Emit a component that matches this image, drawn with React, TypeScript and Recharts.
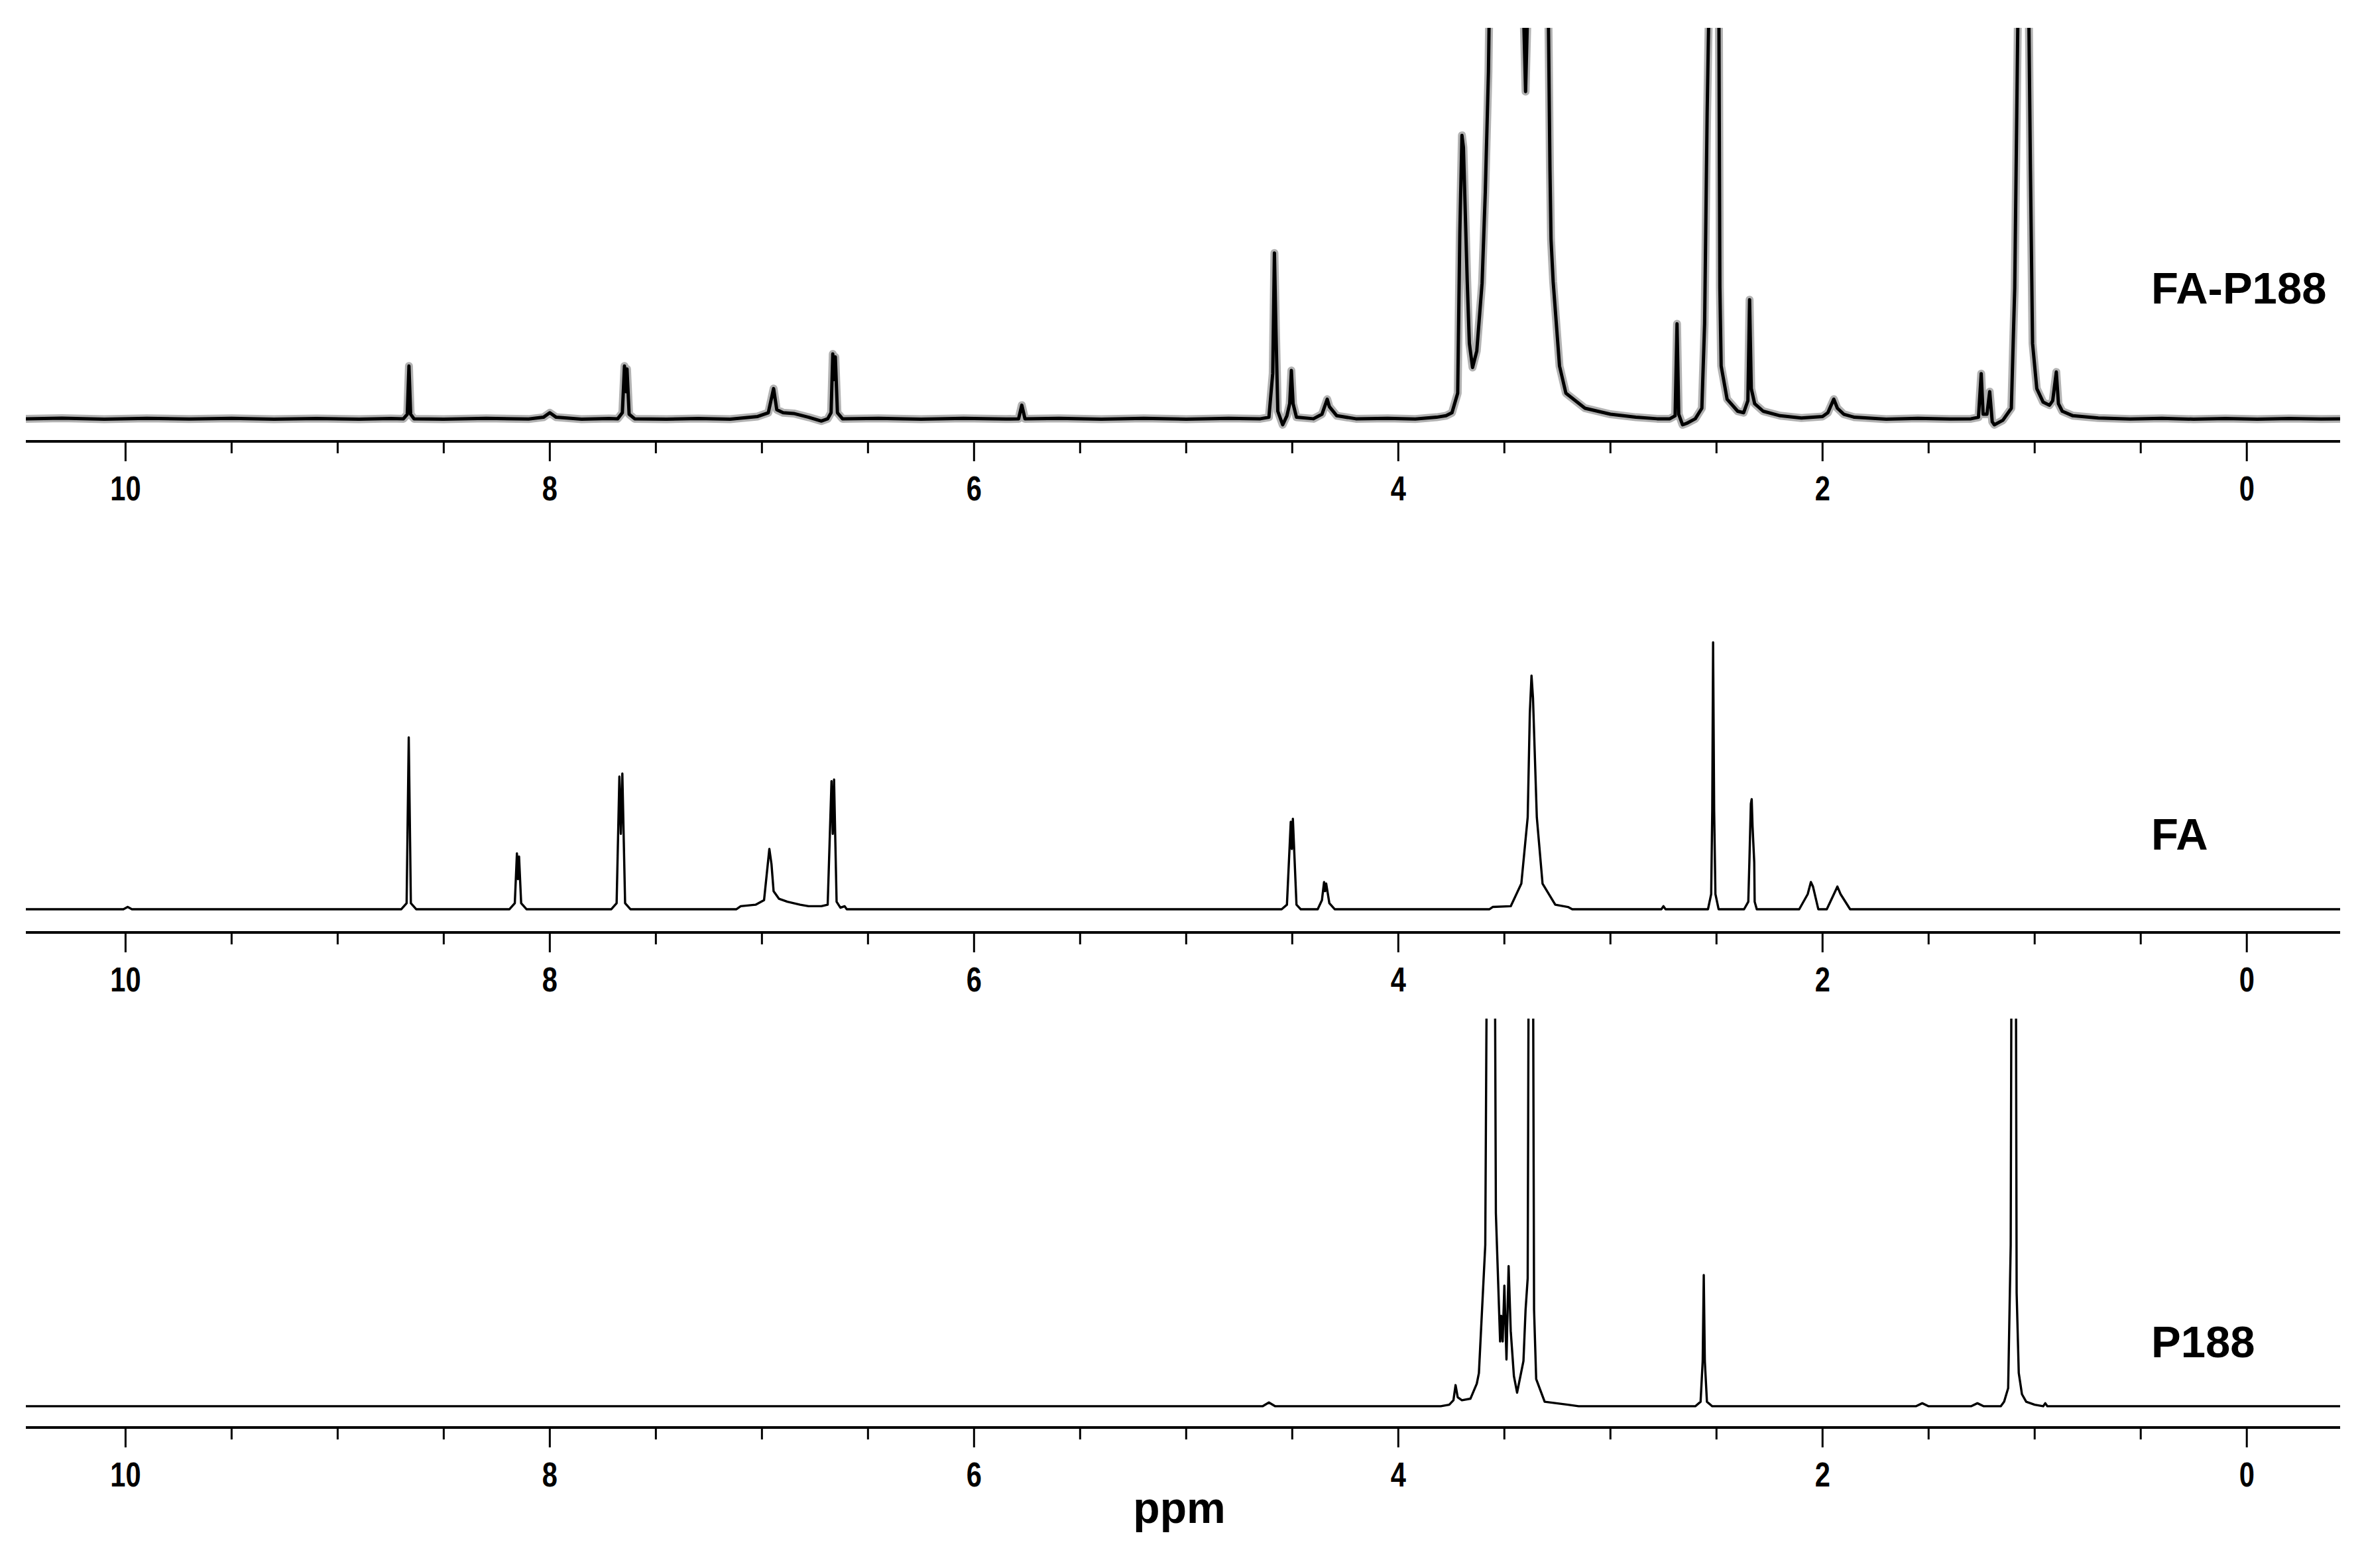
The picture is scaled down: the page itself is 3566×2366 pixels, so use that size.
import React from 'react';
import { LineChart, Line, XAxis, YAxis } from 'recharts';

// ---------- data ----------
const PPM_TICKS = [0, 0.5, 1, 1.5, 2, 2.5, 3, 3.5, 4, 4.5, 5, 5.5, 6, 6.5, 7, 7.5, 8, 8.5, 9, 9.5, 10];
const PPM_DOMAIN: [number, number] = [-0.44, 10.47];
const PANEL_NAMES = ['FA-P188', 'FA', 'P188'];
const AXIS_TITLE = 'ppm';

// [chemical shift (ppm), intensity (arbitrary units, baseline = 0)]
const FA_P188_SPECTRUM: [number, number][] = [
  [10.47, 0], [10.3, 0.4], [10.1, -0.3], [9.9, 0.3], [9.7, -0.2], [9.5, 0.3], [9.3, -0.3], [9.1, 0.2], [8.9, -0.3], [8.75, 0.2],
  [8.69, 0], [8.672, 3], [8.664, 35], [8.656, 3], [8.64, 0],
  [8.5, -0.3], [8.3, 0.3], [8.1, -0.2], [8.03, 1], [8.0, 4], [7.97, 1], [7.85, -0.3], [7.72, 0.2],
  [7.68, 0], [7.658, 4], [7.648, 35], [7.642, 18], [7.636, 33], [7.626, 3], [7.6, 0],
  [7.45, -0.3], [7.3, 0.2], [7.15, -0.3], [7.02, 1.5], [6.97, 4], [6.945, 20], [6.93, 6], [6.9, 4], [6.85, 3.5], [6.78, 1], [6.72, -1.5],
  [6.69, 0], [6.674, 4], [6.666, 43], [6.66, 26], [6.654, 41], [6.644, 4], [6.62, 0],
  [6.45, 0.3], [6.25, -0.3], [6.05, 0.3], [5.85, -0.2], [5.79, 0], [5.775, 9], [5.76, 0],
  [5.6, 0.3], [5.4, -0.3], [5.2, 0.3], [5.0, -0.3], [4.8, 0.3], [4.65, 0],
  [4.61, 1], [4.592, 30], [4.584, 110], [4.577, 60], [4.568, 5], [4.545, -4], [4.525, 2], [4.512, 10], [4.504, 32], [4.496, 10], [4.48, 1],
  [4.4, 0], [4.36, 3], [4.335, 13], [4.325, 8], [4.29, 2], [4.2, 0], [4.05, 0.3], [3.92, -0.2], [3.82, 1], [3.775, 2],
  [3.747, 4], [3.72, 17], [3.71, 123], [3.7, 188], [3.693, 180], [3.675, 91], [3.665, 50], [3.65, 34], [3.63, 45], [3.605, 90], [3.59, 150], [3.575, 230],
  [3.55, 500], [3.45, 500], [3.415, 300], [3.4, 217], [3.385, 300], [3.35, 600], [3.3, 500], [3.295, 300],
  [3.285, 165], [3.28, 119], [3.27, 91], [3.24, 35], [3.21, 17], [3.12, 7], [3.0, 3], [2.88, 1], [2.78, 0],
  [2.72, 0], [2.695, 2], [2.686, 63], [2.678, 3], [2.66, -4], [2.64, -3], [2.6, 0],
  [2.569, 7], [2.556, 63], [2.544, 203], [2.53, 320], [2.51, 500], [2.49, 320], [2.484, 87], [2.478, 35], [2.45, 13], [2.4, 5],
  [2.372, 4], [2.352, 12], [2.344, 79], [2.336, 20], [2.32, 10], [2.28, 5], [2.2, 2], [2.1, 0.5],
  [2.0, 1.5], [1.975, 4], [1.947, 13], [1.93, 7], [1.9, 3], [1.85, 1], [1.7, -0.3], [1.55, 0.3], [1.4, -0.2], [1.3, 0],
  [1.265, 1], [1.252, 30], [1.243, 3], [1.225, 3], [1.212, 18], [1.2, -2], [1.19, -4], [1.15, -1],
  [1.11, 7], [1.094, 87], [1.078, 280], [1.05, 500], [1.03, 300], [1.02, 165], [1.01, 50], [0.99, 20], [0.96, 11],
  [0.93, 9], [0.915, 12], [0.898, 31], [0.888, 10], [0.87, 5], [0.82, 2], [0.7, 0.5],
  [0.55, -0.2], [0.4, 0.3], [0.25, -0.3], [0.1, 0.2], [-0.05, -0.3], [-0.2, 0.2], [-0.35, -0.2], [-0.44, 0],
];

const FA_SPECTRUM: [number, number][] = [
  [10.47, 0], [10.01, 0], [9.99, 1.5], [9.97, 0], [8.75, 0],
  [8.7, 0], [8.675, 4], [8.665, 114], [8.66, 60], [8.655, 4], [8.63, 0],
  [8.19, 0], [8.165, 4], [8.155, 37], [8.15, 20], [8.145, 35], [8.135, 4], [8.11, 0],
  [7.71, 0], [7.685, 4], [7.672, 88], [7.665, 50], [7.658, 90], [7.645, 4], [7.62, 0],
  [7.12, 0], [7.1, 2], [7.03, 3], [6.99, 6], [6.965, 40], [6.955, 30], [6.945, 12], [6.92, 7], [6.88, 5], [6.82, 3], [6.78, 2], [6.72, 2],
  [6.69, 3], [6.672, 85], [6.666, 50], [6.66, 86], [6.648, 5], [6.63, 1], [6.61, 2], [6.6, 0],
  [4.55, 0], [4.525, 3], [4.507, 58], [4.502, 40], [4.497, 60], [4.48, 3], [4.46, 0],
  [4.38, 0], [4.36, 6], [4.35, 18], [4.345, 12], [4.34, 17], [4.325, 4], [4.3, 0],
  [3.57, 0], [3.555, 1.5], [3.47, 2], [3.42, 17], [3.39, 61], [3.38, 130], [3.372, 155], [3.365, 140], [3.347, 61], [3.32, 17], [3.26, 3], [3.2, 1.5], [3.18, 0],
  [2.76, 0], [2.75, 2], [2.74, 0],
  [2.54, 0], [2.525, 10], [2.52, 65], [2.516, 177], [2.511, 65], [2.505, 10], [2.49, 0],
  [2.37, 0], [2.35, 5], [2.345, 31], [2.338, 70], [2.334, 73], [2.33, 55], [2.322, 31], [2.32, 5], [2.31, 0],
  [2.11, 0], [2.07, 10], [2.055, 18], [2.045, 15], [2.02, 0],
  [1.98, 0], [1.94, 12], [1.93, 15], [1.915, 10], [1.87, 0],
  [-0.44, 0],
];

const P188_SPECTRUM: [number, number][] = [
  [10.47, 0], [4.64, 0], [4.61, 2.5], [4.58, 0], [3.8, 0],
  [3.76, 1], [3.74, 4], [3.73, 14], [3.72, 6], [3.7, 4], [3.66, 5], [3.63, 15], [3.62, 22], [3.59, 107],
  [3.575, 500], [3.565, 400], [3.55, 500], [3.54, 128], [3.52, 43], [3.515, 60], [3.508, 43], [3.5, 80], [3.49, 31],
  [3.48, 93], [3.47, 50], [3.455, 20], [3.44, 9], [3.41, 30], [3.4, 64], [3.39, 85], [3.375, 800], [3.36, 64], [3.35, 18],
  [3.31, 3], [3.2, 1], [3.15, 0],
  [2.6, 0], [2.575, 3], [2.565, 30], [2.56, 87], [2.555, 30], [2.545, 3], [2.52, 0],
  [1.56, 0], [1.53, 2], [1.5, 0], [1.3, 0], [1.27, 2], [1.24, 0],
  [1.16, 0], [1.144, 3], [1.125, 12], [1.113, 107], [1.098, 900], [1.085, 75], [1.075, 22], [1.06, 8], [1.04, 3], [1.0, 1],
  [0.96, 0], [0.95, 2], [0.94, 0], [-0.44, 0],
];

// ---------- layout ----------
const W = 3566;
const H = 2366;
const LEFT = 39;
const RIGHT = 36;
const AXIS_H = 110;
const FONT = '"Liberation Sans", Arial, Helvetica, sans-serif';

const PANELS = [
  { name: PANEL_NAMES[0], spectrum: FA_P188_SPECTRUM, top: 0, marginTop: 42, plotBottom: 666, yDomain: [-15, 259.3], strokeWidth: 5, halo: 12, labelY: 458 },
  { name: PANEL_NAMES[1], spectrum: FA_SPECTRUM, top: 780, marginTop: 23, plotBottom: 1407, yDomain: [-15.4, 250.1], strokeWidth: 3.4, halo: 0, labelY: 1282 },
  { name: PANEL_NAMES[2], spectrum: P188_SPECTRUM, top: 1520, marginTop: 17, plotBottom: 2154, yDomain: [-14.1, 257.1], strokeWidth: 3.4, halo: 0, labelY: 2048 },
];

const PpmTick = (props: any) => {
  const { x, y, payload } = props;
  const v = payload.value as number;
  const major = Math.abs(v % 2) < 1e-6;
  return (
    <g>
      <line x1={x} y1={y} x2={x} y2={y + (major ? 30 : 18)} stroke="#000" strokeWidth={3} />
      {major && (
        <text
          transform={`translate(${x},${y + 89}) scale(0.8,1)`}
          textAnchor="middle"
          fontSize={52}
          fontWeight="bold"
          fontFamily={FONT}
          fill="#000"
        >
          {v}
        </text>
      )}
    </g>
  );
};

const Panel = ({ p }: { p: (typeof PANELS)[number] }) => {
  const data = p.spectrum.map(([ppm, v]) => ({ ppm, v }));
  const height = p.plotBottom - p.top + AXIS_H;
  return (
    <div style={{ position: 'absolute', left: 0, top: p.top }}>
      <LineChart width={W} height={height} data={data} margin={{ top: p.marginTop, right: RIGHT, bottom: 0, left: LEFT }}>
        <XAxis
          dataKey="ppm"
          type="number"
          domain={PPM_DOMAIN}
          reversed
          allowDataOverflow
          ticks={PPM_TICKS}
          interval={0}
          tickSize={0}
          tickMargin={0}
          tickLine={false}
          tick={<PpmTick />}
          axisLine={{ stroke: '#000', strokeWidth: 4 }}
          height={AXIS_H}
        />
        <YAxis hide type="number" domain={p.yDomain as [number, number]} allowDataOverflow />
        {p.halo > 0 && (
          <Line
            dataKey="v"
            type="linear"
            stroke="#000"
            strokeOpacity={0.3}
            strokeWidth={p.halo}
            strokeLinejoin="round"
            dot={false}
            activeDot={false}
            isAnimationActive={false}
          />
        )}
        <Line
          dataKey="v"
          type="linear"
          stroke="#000"
          strokeWidth={p.strokeWidth}
          strokeLinejoin="round"
          dot={false}
          activeDot={false}
          isAnimationActive={false}
        />
      </LineChart>
    </div>
  );
};

export default function App() {
  return (
    <div style={{ position: 'absolute', left: 0, top: 0, width: W, height: H, background: '#fff', overflow: 'hidden' }}>
      {PANELS.map((p) => (
        <Panel key={p.name} p={p} />
      ))}
      <svg width={W} height={H} style={{ position: 'absolute', left: 0, top: 0, pointerEvents: 'none' }}>
        {PANELS.map((p) => (
          <text key={p.name} x={3245} y={p.labelY} fontSize={67} fontWeight="bold" fontFamily={FONT} fill="#000">
            {p.name}
          </text>
        ))}
        <text x={1779} y={2298} textAnchor="middle" fontSize={66} fontWeight="bold" fontFamily={FONT} fill="#000">
          {AXIS_TITLE}
        </text>
      </svg>
    </div>
  );
}
